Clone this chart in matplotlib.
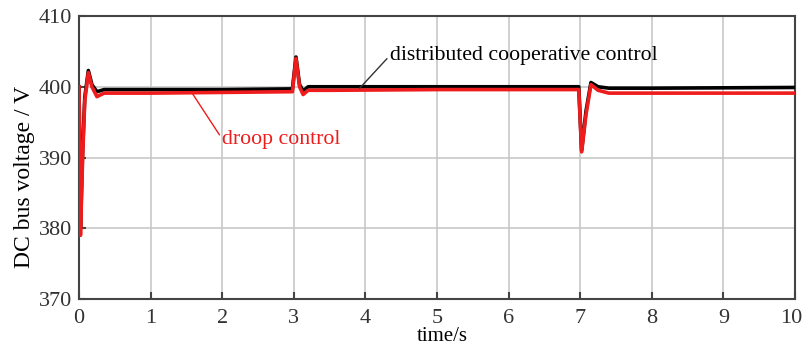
import matplotlib
matplotlib.use("Agg")
import matplotlib.pyplot as plt
import matplotlib.transforms as mtransforms

# Data (time in s, voltage in V)
t_coop = [0, 0.02, 0.05, 0.08, 0.13, 0.18, 0.25, 0.35, 1.0, 2.0, 2.98, 3.03, 3.08, 3.13, 3.2, 3.5,
          5.0, 6.98, 7.02, 7.08, 7.15, 7.25, 7.4, 8.0, 10.0]
v_coop = [400, 380, 391, 398.5, 402.3, 400.3, 399.3, 399.6, 399.6, 399.6, 399.7, 404.2, 400.3, 399.4,
          400.0, 400.0, 400.0, 400.0, 391.0, 396.5, 400.6, 400.0, 399.8, 399.8, 399.9]

t_droop = [0, 0.02, 0.05, 0.08, 0.13, 0.18, 0.25, 0.35, 1.0, 2.0, 2.98, 3.03, 3.08, 3.13, 3.2, 3.5,
           5.0, 6.98, 7.02, 7.08, 7.15, 7.25, 7.4, 8.0, 10.0]
v_droop = [400, 379, 390, 398, 402.0, 400.0, 398.6, 399.1, 399.1, 399.2, 399.3, 404.0, 400.0, 398.9,
           399.5, 399.5, 399.6, 399.6, 390.8, 396.0, 400.3, 399.5, 399.1, 399.1, 399.1]

x_ticks = [0, 1, 2, 3, 4, 5, 6, 7, 8, 9, 10]
y_ticks = [370, 380, 390, 400, 410]

plt.rcParams['font.family'] = ['Liberation Serif', 'DejaVu Serif']

fig = plt.figure(figsize=(8.04, 3.45), dpi=100)
ax = fig.add_axes([0.0983, 0.1333, 0.8905, 0.8203])

ax.plot(t_coop, v_coop, color='black', lw=2.6, solid_joinstyle='round', zorder=3)
ax.plot(t_droop, v_droop, color='#ee1c1c', lw=2.6, solid_joinstyle='round', zorder=4)

ax.set_xlim(0, 10)
ax.set_ylim(370, 410)
ax.set_xticks(x_ticks)
ax.set_yticks(y_ticks)
ax.grid(True, color='#c8c8c8', lw=1.2)
ax.set_axisbelow(True)
for s in ax.spines.values():
    s.set_color('#444444')
    s.set_linewidth(1.5)
ax.tick_params(direction='in', length=5, width=1.5, color='#444444', labelsize=16,
               labelcolor='#333333')
ax.tick_params(axis='x', pad=7)
ax.tick_params(axis='y', pad=5)

# nudge the last x tick label so it stays inside the figure
last = ax.get_xticklabels()[-1]
last.set_transform(last.get_transform() +
                   mtransforms.ScaledTranslation(-4 / 100, 0, fig.dpi_scale_trans))

ax.set_xlabel('time/s', fontsize=15)
ax.set_ylabel('DC bus voltage / V', fontsize=17)
ax.xaxis.set_label_coords(0.507, -0.099, transform=ax.transAxes)
ax.xaxis.label.set_va('top')
ax.yaxis.set_label_coords(-0.061, 0.43, transform=ax.transAxes)

ax.annotate('distributed cooperative control', xy=(3.92, 399.8), xytext=(4.34, 404.4),
            fontsize=15.7, color='black', va='center', ha='left',
            arrowprops=dict(arrowstyle='-', color='#333333', lw=1.0, shrinkA=0, shrinkB=0,
                            relpos=(0, 0.5)), zorder=6)
ax.annotate('droop control', xy=(1.58, 399.1), xytext=(2.0, 392.6),
            fontsize=15.7, color='#ee1c1c', va='center', ha='left',
            arrowprops=dict(arrowstyle='-', color='#ee1c1c', lw=1.0, shrinkA=0, shrinkB=0,
                            relpos=(0, 0.5)), zorder=6)

fig.savefig('out.png', dpi=100)
